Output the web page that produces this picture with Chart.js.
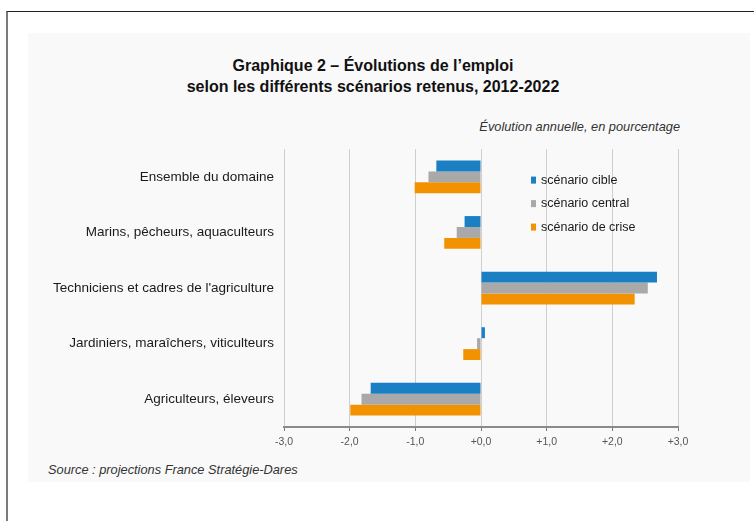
<!DOCTYPE html>
<html lang="fr">
<head>
<meta charset="utf-8">
<title>Graphique 2 – Évolutions de l’emploi</title>
<script src="https://cdn.jsdelivr.net/npm/chart.js@4.4.1/dist/chart.umd.min.js"></script>
<style>
    html, body { margin: 0; padding: 0; background: #fff; }
    body { width: 754px; height: 521px; position: relative; overflow: hidden; font-family: 'Liberation Sans', Arial, sans-serif; color: #1a1a1a; }
    .frame { position: absolute; left: 6px; top: 11px; width: 760px; height: 520px; border-left: 2px solid #7a7a7a; border-top: 1px solid #222; }
    .panel { position: absolute; left: 28px; top: 33px; width: 722px; height: 449px; background: #f9f9f9; }
    .title { position: absolute; left: 0; width: 746px; top: 55px; text-align: center; font-weight: bold; font-size: 16px; line-height: 21px; color: #111; }
    .unit { position: absolute; right: 74px; top: 119px; font-style: italic; font-size: 12.8px; color: #333; }
    .source { position: absolute; left: 48px; top: 462px; font-style: italic; font-size: 12.8px; color: #333; }
    .chart-box { position: absolute; left: 20px; top: 131px; width: 700px; height: 329px; }
</style>
</head>
<body>
<div class="frame"></div>
<div class="panel"></div>
<div class="title">Graphique 2 – Évolutions de l’emploi<br>selon les différents scénarios retenus, 2012-2022</div>
<div class="unit">Évolution annuelle, en pourcentage</div>
<div class="source">Source : projections France Stratégie-Dares</div>
<div class="chart-box"><canvas id="emploiChart"></canvas></div>

<script>
// Données
const categories = [
    'Ensemble du domaine',
    'Marins, pêcheurs, aquaculteurs',
    "Techniciens et cadres de l'agriculture",
    'Jardiniers, maraîchers, viticulteurs',
    'Agriculteurs, éleveurs'
];
const scenarioCible = [-0.68, -0.25, 2.68, 0.06, -1.68];
const scenarioCentral = [-0.80, -0.37, 2.54, -0.06, -1.82];
const scenarioCrise = [-1.01, -0.56, 2.34, -0.27, -1.99];
const tickValues = [-3, -2, -1, 0, 1, 2, 3];
const tickLabels = ['-3,0', '-2,0', '-1,0', '+0,0', '+1,0', '+2,0', '+3,0'];

// Légende dessinée dans la zone du graphique
const insideLegend = {
    id: 'insideLegend',
    afterDraw(chart) {
        const ctx = chart.ctx;
        const area = chart.chartArea;
        const x = area.left + 247;
        ctx.save();
        ctx.font = '12.5px "Liberation Sans", Arial, sans-serif';
        ctx.textBaseline = 'middle';
        chart.data.datasets.forEach((ds, i) => {
            const y = area.top + 31 + i * 23.5;
            ctx.fillStyle = ds.backgroundColor;
            ctx.fillRect(x, y - 3.5, 5, 7);
            ctx.fillStyle = '#1a1a1a';
            ctx.fillText(ds.label, x + 10, y);
        });
        ctx.restore();
    }
};

function initEmploiChart() {
    const ctx = document.getElementById('emploiChart');
    if (!ctx) return;

    new Chart(ctx.getContext('2d'), {
        type: 'bar',
        data: {
            labels: categories,
            datasets: [
                { label: 'scénario cible', data: scenarioCible, backgroundColor: '#1b7fc3', borderWidth: 0 },
                { label: 'scénario central', data: scenarioCentral, backgroundColor: '#a9a9a9', borderWidth: 0 },
                { label: 'scénario de crise', data: scenarioCrise, backgroundColor: '#f39200', borderWidth: 0 }
            ]
        },
        options: {
            indexAxis: 'y',
            responsive: true,
            maintainAspectRatio: false,
            animation: false,
            categoryPercentage: 0.59,
            barPercentage: 1,
            layout: { padding: { left: 0, right: 42, top: 0, bottom: 8 } },
            plugins: {
                legend: { display: false },
                title: { display: false },
                tooltip: { mode: 'index', intersect: false }
            },
            scales: {
                x: {
                    min: -3,
                    max: 3,
                    afterBuildTicks: (scale) => { scale.ticks = tickValues.map(v => ({ value: v })); },
                    afterFit: (scale) => { scale.height = 25; },
                    grid: { color: '#cfcfcf', lineWidth: 1, tickLength: 4, tickColor: '#7a7a7a' },
                    border: { display: true, color: '#8a8a8a', width: 2 },
                    ticks: {
                        padding: 5,
                        color: '#555',
                        font: { family: 'Liberation Sans', size: 10.5 },
                        callback: (value) => tickLabels[tickValues.indexOf(value)]
                    }
                },
                y: {
                    afterFit: (scale) => { scale.width = 264; },
                    grid: { display: false, drawTicks: false },
                    border: { display: false },
                    ticks: {
                        padding: 10,
                        color: '#1a1a1a',
                        font: { family: 'Liberation Sans', size: 13.5 }
                    }
                }
            }
        },
        plugins: [insideLegend]
    });
}

document.addEventListener('DOMContentLoaded', initEmploiChart);
</script>
</body>
</html>
